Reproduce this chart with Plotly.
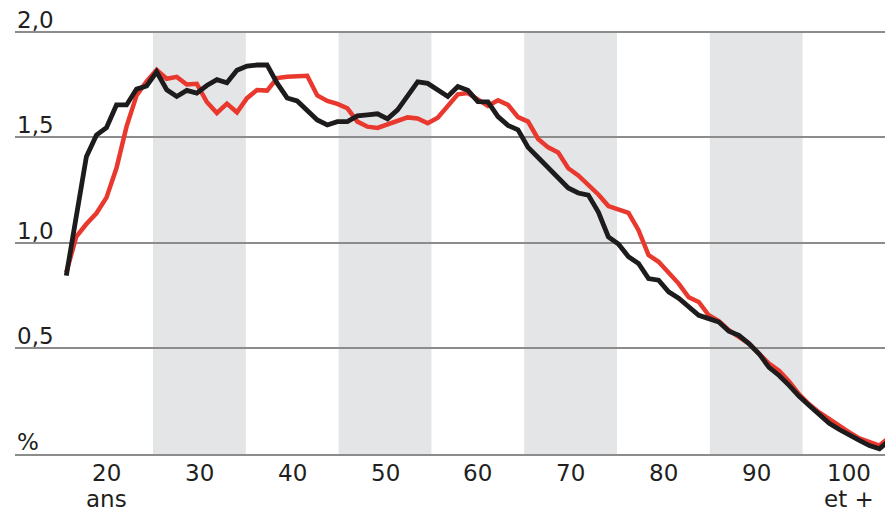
import plotly.graph_objects as go

# Data points (one per step along the curve, 18 .. 100 ans)
ages_data = list(range(18, 101))
black_values = [0.845, 1.12, 1.408, 1.51, 1.545, 1.653, 1.653, 1.728, 1.743, 1.81,
                1.725, 1.693, 1.722, 1.709, 1.745, 1.773, 1.758, 1.817, 1.837, 1.842,
                1.843, 1.756, 1.686, 1.672, 1.63, 1.582, 1.558, 1.574, 1.574, 1.601,
                1.606, 1.611, 1.587, 1.63, 1.696, 1.762, 1.755, 1.727, 1.693, 1.74,
                1.722, 1.669, 1.667, 1.598, 1.556, 1.535, 1.452, 1.404, 1.354, 1.307,
                1.26, 1.236, 1.226, 1.146, 1.028, 0.994, 0.934, 0.902, 0.831, 0.823,
                0.768, 0.738, 0.697, 0.657, 0.641, 0.625, 0.581, 0.562, 0.523, 0.475,
                0.41, 0.372, 0.325, 0.273, 0.23, 0.187, 0.145, 0.116, 0.088, 0.064,
                0.04, 0.025, 0.064]
red_values = [0.86, 1.03, 1.089, 1.14, 1.214, 1.354, 1.55, 1.698, 1.764, 1.819,
              1.777, 1.786, 1.75, 1.753, 1.667, 1.615, 1.659, 1.618, 1.685, 1.724,
              1.721, 1.78, 1.786, 1.791, 1.791, 1.698, 1.672, 1.658, 1.637, 1.574,
              1.55, 1.544, 1.561, 1.582, 1.594, 1.589, 1.566, 1.592, 1.648, 1.703,
              1.709, 1.677, 1.648, 1.675, 1.653, 1.595, 1.574, 1.492, 1.452, 1.428,
              1.353, 1.319, 1.274, 1.229, 1.174, 1.158, 1.142, 1.06, 0.942, 0.91,
              0.856, 0.807, 0.742, 0.72, 0.657, 0.629, 0.586, 0.557, 0.523, 0.475,
              0.428, 0.394, 0.344, 0.282, 0.235, 0.197, 0.164, 0.135, 0.102, 0.074,
              0.055, 0.04, 0.08]

tick_ages = [20, 30, 40, 50, 60, 70, 80, 90, 100]
tick_texts = ["20", "30", "40", "50", "60", "70", "80", "90", "100"]
sub_labels = {20: "ans", 100: "et +"}
y_ticks = [0.5, 1.0, 1.5, 2.0]
y_labels = ["0,5", "1,0", "1,5", "2,0"]
bands = [(25, 35), (45, 55), (65, 75), (85, 95)]

FONT = "DejaVu Sans"
TXT = "#231f20"
GRID = "#8c8c8c"

fig = go.Figure()
fig.add_trace(go.Scatter(x=ages_data, y=red_values, mode="lines",
                         line=dict(color="#e9382e", width=4.5), xaxis="x2",
                         hoverinfo="skip", showlegend=False))
fig.add_trace(go.Scatter(x=ages_data, y=black_values, mode="lines",
                         line=dict(color="#1d1b1c", width=4.8), xaxis="x2",
                         hoverinfo="skip", showlegend=False))

for a0, a1 in bands:
    fig.add_shape(type="rect", xref="x", yref="y", x0=a0, x1=a1, y0=0, y1=2.0,
                  fillcolor="#e4e5e7", line=dict(width=0), layer="below")

font = dict(family=FONT, size=23, color=TXT)
annotations = []
for v, t in zip(y_ticks, y_labels):
    annotations.append(dict(xref="paper", x=0, xanchor="left", yref="y", y=v,
                            yanchor="bottom", yshift=-3, text=t, showarrow=False,
                            font=font))
annotations.append(dict(xref="paper", x=0, xanchor="left", yref="y", y=0,
                        yanchor="bottom", yshift=-3, text="%", showarrow=False,
                        font=font))
for a, t in zip(tick_ages, tick_texts):
    annotations.append(dict(xref="x", x=a, xanchor="center", yref="paper", y=0,
                            yanchor="top", yshift=-4, text=t, showarrow=False,
                            font=font))
for a, t in sub_labels.items():
    annotations.append(dict(xref="x", x=a, xanchor="center", yref="paper", y=0,
                            yanchor="bottom", yshift=-60, text=t, showarrow=False,
                            font=font))

# The page body has an 8px margin, so the figure is sized to fit the 893x514 window
fig.update_layout(
    width=885, height=506,
    margin=dict(l=7, r=0, t=0, b=60),
    paper_bgcolor="white", plot_bgcolor="white",
    showlegend=False,
    annotations=annotations,
    xaxis=dict(range=[10.13, 104.74], showticklabels=False,
               showgrid=False, zeroline=False, showline=True, linecolor=GRID,
               linewidth=1.5, ticks=""),
    xaxis2=dict(range=[12.89, 100.35], overlaying="x", visible=False),
    yaxis=dict(range=[0, 2.112], tickvals=[0] + y_ticks, showticklabels=False,
               showgrid=True, gridcolor=GRID, gridwidth=1.5, zeroline=False, ticks=""),
)

fig.write_html("out.html")
